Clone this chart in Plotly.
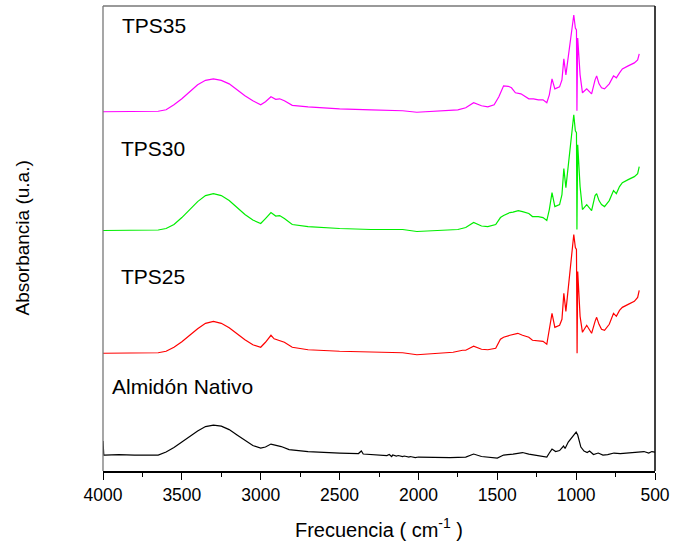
import plotly.graph_objects as go

# ---------------- data (absorbance, arbitrary units, offset per sample) ----------------
wn_tps35 = [4000, 3800, 3650, 3600, 3550, 3500, 3450, 3400, 3350, 3300, 3250, 3200, 3150, 3100, 3050,
            3000, 2970, 2935, 2905, 2880, 2850, 2800, 2700, 2500, 2300, 2100, 2010, 1900, 1750, 1700,
            1650, 1600, 1560, 1520, 1490, 1460, 1430, 1410, 1385, 1350, 1330, 1300, 1270, 1240, 1210,
            1186, 1170, 1153, 1135, 1105, 1090, 1078, 1065, 1040, 1015, 1005, 998, 995, 990, 975,
            960, 933, 902, 880, 870, 855, 839, 820, 790, 763, 745, 725, 707, 670, 631, 610, 600]
abs_tps35 = [360, 360, 360.5, 362, 367, 373, 380, 387, 391.5, 393, 391.5, 388, 382, 376, 371,
             367, 370, 375, 372.5, 373, 371, 366.5, 365, 363, 362, 361, 359.5, 360.5, 362, 364,
             369, 366, 365, 367, 375, 386, 385.5, 384, 379, 378, 376, 373, 373, 372, 372,
             369, 377, 393, 383, 385, 392, 413, 397, 427, 457, 444, 442, 361, 434, 397,
             379, 383, 378, 392, 396, 388, 384, 383, 388, 396, 394, 399, 403, 406, 409, 412, 418]

wn_tps30 = [4000, 3800, 3650, 3600, 3550, 3500, 3450, 3400, 3350, 3300, 3250, 3200, 3150, 3100, 3050,
            3000, 2970, 2935, 2905, 2880, 2850, 2800, 2700, 2500, 2300, 2100, 2010, 1900, 1750, 1700,
            1650, 1600, 1560, 1510, 1480, 1460, 1420, 1400, 1367, 1340, 1300, 1277, 1240, 1210,
            1186, 1170, 1153, 1135, 1105, 1090, 1078, 1065, 1040, 1015, 1005, 998, 995, 990, 975,
            960, 933, 902, 880, 870, 855, 839, 820, 790, 763, 745, 725, 707, 670, 631, 610, 600]
abs_tps30 = [241, 241, 241.5, 243, 247, 254, 262, 270, 276, 278, 276, 271, 264, 257, 251.5,
             248, 253, 259, 255.5, 256, 253, 247, 245, 243, 242, 242, 240, 241, 242, 244,
             249, 245.5, 245, 247, 254, 256, 259, 259.5, 261, 260, 258, 255, 255, 254,
             251, 262, 279, 265, 267, 277, 303, 284, 322, 357, 341, 339, 242, 327, 285,
             262, 267, 261, 276, 278, 271, 267, 265, 271, 281, 278, 285, 289, 292, 295, 298, 305]

wn_tps25 = [4000, 3800, 3650, 3600, 3550, 3500, 3450, 3400, 3350, 3300, 3250, 3200, 3150, 3100, 3050,
            3000, 2970, 2935, 2915, 2880, 2850, 2800, 2700, 2500, 2300, 2100, 2010, 1900, 1780, 1720,
            1700, 1650, 1600, 1560, 1510, 1480, 1460, 1420, 1370, 1340, 1300, 1277, 1240, 1210,
            1186, 1170, 1153, 1135, 1105, 1090, 1078, 1065, 1040, 1015, 1005, 998, 994, 990, 975,
            960, 933, 902, 880, 870, 855, 839, 820, 790, 763, 745, 725, 707, 670, 631, 610, 600]
abs_tps25 = [118, 118, 118.5, 120, 124, 129.5, 136, 142.5, 148, 150, 148, 143.5, 137.5, 131.5, 126.5,
             124, 129, 136, 132.5, 131, 129, 124, 121.5, 120, 119, 118.5, 116.5, 117.5, 119, 121,
             121, 125, 122, 121.5, 123, 132, 134, 136, 138, 136, 134, 131, 130.5, 130,
             127, 142, 158, 144, 146, 152, 178, 160, 202, 237, 224, 222, 118, 200, 155,
             139, 146, 138, 150, 154, 147, 142, 141, 147, 158, 155, 161, 164, 167, 170, 174, 181]

wn_native = [4000, 3995, 3990, 3900, 3800, 3700, 3650, 3600, 3550, 3500, 3450, 3400, 3350, 3300, 3250,
             3200, 3150, 3100, 3050, 3000, 2970, 2935, 2900, 2870, 2820, 2700, 2500, 2380, 2362, 2350,
             2200, 2185, 2170, 2163, 2140, 2128, 2100, 2090, 2060, 2052, 2020, 2000, 1800, 1700, 1650,
             1600, 1500, 1460, 1400, 1340, 1300, 1240, 1186, 1170, 1153, 1130, 1105, 1080, 1070, 1050,
             1020, 1000, 990, 970, 950, 930, 915, 890, 860, 830, 800, 760, 720, 680, 620,
             570, 540, 520, 500]
abs_native = [30, 16, 16, 16.5, 16, 15.5, 16, 19, 23.5, 29, 34.5, 40, 44.5, 46, 45,
              41.5, 36, 30.5, 25.5, 23, 24, 27, 26, 24.5, 21.5, 19.5, 18, 17.5, 20, 17,
              15.5, 16.5, 14.5, 16, 15, 15.5, 14.5, 15, 14, 14.5, 13.5, 14, 13.5, 14, 17,
              14.5, 13, 16, 17, 18.5, 17, 15.5, 14, 18, 22, 19.5, 20.5, 25, 22.5, 29,
              35, 39, 36, 24, 20, 18.5, 20, 16.5, 18, 16, 16.5, 18, 17.5, 18, 18.5,
              19.5, 18, 19.5, 19]

labels = ["TPS35", "TPS30", "TPS25", "Almidón Nativo"]
x_ticks = [4000, 3500, 3000, 2500, 2000, 1500, 1000, 500]

FONT = "Liberation Sans, Arial, Helvetica, sans-serif"

fig = go.Figure()
series = [(wn_native, abs_native, "#000000"),
          (wn_tps25, abs_tps25, "#FF0000"),
          (wn_tps30, abs_tps30, "#00EE00"),
          (wn_tps35, abs_tps35, "#FF00FF")]
for wx, ay, col in series:
    fig.add_trace(go.Scatter(x=wx, y=ay, mode="lines", line=dict(color=col, width=1.2),
                             showlegend=False, hoverinfo="skip"))

label_pos = [(3890, 446), (3896, 323), (3896, 195), (3958, 85)]
for txt, (lx, ly) in zip(labels, label_pos):
    fig.add_annotation(x=lx, y=ly, xref="x", yref="y", text=txt, showarrow=False,
                       xanchor="left", yanchor="middle", font=dict(family=FONT, size=21, color="black"))

fig.add_annotation(x=0, y=0.5, xref="paper", yref="paper", text="Absorbancia (u.a.)",
                   textangle=-90, showarrow=False, xanchor="center", yanchor="middle",
                   xshift=-81, font=dict(family=FONT, size=19, color="black"))

# frame
fig.add_shape(type="line", xref="paper", yref="paper", x0=0, x1=1, y0=1, y1=1,
              line=dict(color="#777777", width=1.3))
fig.add_shape(type="line", xref="paper", yref="paper", x0=0, x1=0, y0=0, y1=1,
              line=dict(color="#777777", width=1.3))
fig.add_shape(type="line", xref="paper", yref="paper", x0=1, x1=1, y0=0, y1=1,
              line=dict(color="black", width=1.5))

fig.update_layout(
    width=676, height=544,
    margin=dict(l=103, r=15, t=6, b=72),
    paper_bgcolor="white", plot_bgcolor="white",
    font=dict(family=FONT, color="black"),
    xaxis=dict(range=[4000, 500], tickvals=x_ticks, ticktext=[str(v) for v in x_ticks],
               ticks="outside", ticklen=7, tickwidth=1.2, tickcolor="black",
               showline=True, linecolor="black", linewidth=1.5,
               showgrid=False, zeroline=False,
               tickfont=dict(family=FONT, size=17.5, color="black"),
               minor=dict(ticks="outside", ticklen=4, tickwidth=1.2, tickcolor="black",
                          tickvals=[3750, 3250, 2750, 2250, 1750, 1250, 750], showgrid=False),
               title=dict(text="Frecuencia ( cm<sup>-1</sup> )", standoff=19,
                          font=dict(family=FONT, size=20, color="black"))),
    yaxis=dict(range=[0, 466], showticklabels=False, ticks="", showgrid=False,
               zeroline=False, showline=False),
)

fig.write_html("out.html")
